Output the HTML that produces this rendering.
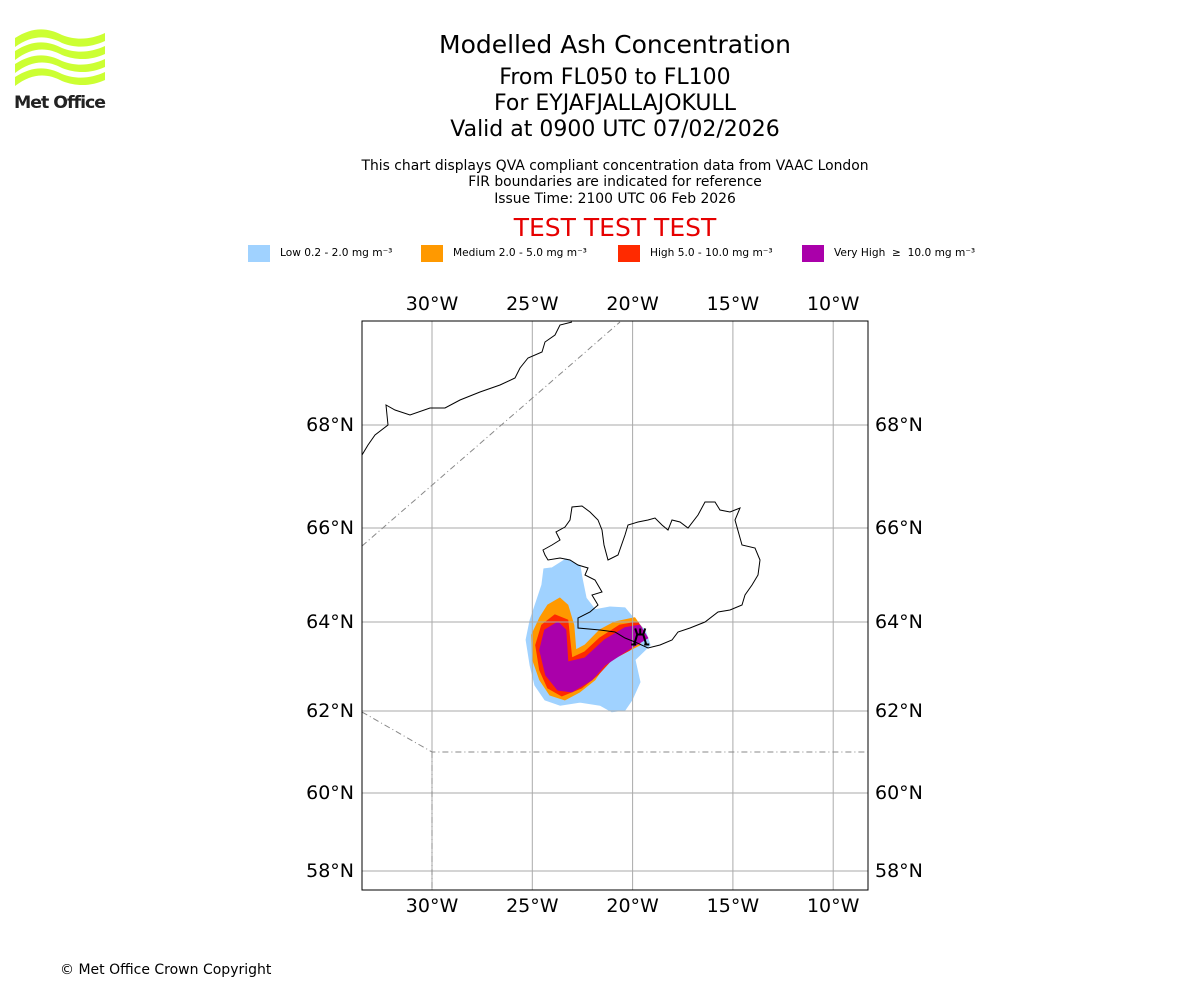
<!DOCTYPE html>
<html><head><meta charset="utf-8"><style>
body{margin:0;background:#fff;font-family:"DejaVu Sans","Liberation Sans",sans-serif;}
#root{position:relative;width:1200px;height:1000px;overflow:hidden;}
.t{position:absolute;left:0;width:1230px;text-align:center;color:#000;white-space:nowrap;}
</style></head><body>
<div id="root">
<svg style="position:absolute;left:12px;top:28px" width="100" height="86" viewBox="0 0 100 86">
<g fill="#ccff33">
<path d="M3 10 C20 -1,35 -1,50 7 C65 13,80 11,93 5 L93 13 C80 19,65 21,50 15 C35 7,20 7,3 19Z"/>
<path d="M3 23 C20 12,35 12,50 20 C65 26,80 24,93 18 L93 26 C80 32,65 33,50 27 C35 19,20 19,3 32Z"/>
<path d="M3 36 C20 25,35 25,50 33 C65 39,80 37,93 31 L93 39 C80 45,65 46,50 40 C35 32,20 32,3 45Z"/>
<path d="M3 49 C20 38,35 38,50 46 C65 52,80 50,93 44 L93 52 C80 58,65 59,50 53 C35 45,20 45,3 58Z"/>
</g>
<text x="2" y="80" font-size="17" font-weight="bold" fill="#222" font-family="DejaVu Sans, sans-serif" letter-spacing="-1" textLength="91" lengthAdjust="spacingAndGlyphs">Met Office</text>
</svg>
<div class="t" style="top:30px;font-size:25px">Modelled Ash Concentration</div>
<div class="t" style="top:65px;font-size:22px">From FL050 to FL100</div>
<div class="t" style="top:91px;font-size:22px">For EYJAFJALLAJOKULL</div>
<div class="t" style="top:117px;font-size:22px">Valid at 0900 UTC 07/02/2026</div>
<div class="t" style="top:158px;font-size:13.9px">This chart displays QVA compliant concentration data from VAAC London</div>
<div class="t" style="top:174px;font-size:13.9px">FIR boundaries are indicated for reference</div>
<div class="t" style="top:191px;font-size:13.9px">Issue Time: 2100 UTC 06 Feb 2026</div>
<div class="t" style="top:213px;font-size:25px;color:#e60000">TEST TEST TEST</div>
<svg id="legend" style="position:absolute;left:0;top:0" width="1200" height="280"></svg>
<svg id="map" style="position:absolute;left:0;top:0" width="1200" height="1000"></svg>
<div style="position:absolute;left:60px;top:962px;font-size:14px">© Met Office Crown Copyright</div>
</div>
<script>
const lonTicks=[-30,-25,-20,-15,-10];
const lonLabels=["30°W","25°W","20°W","15°W","10°W"];
const latTicks=[68,66,64,62,60,58];
const latLabels=["68°N","66°N","64°N","62°N","60°N","58°N"];
const legendLabels=["Low 0.2 - 2.0 mg m⁻³","Medium 2.0 - 5.0 mg m⁻³","High 5.0 - 10.0 mg m⁻³","Very High \u00a0≥\u00a0 10.0 mg m⁻³"];
const legendColors=["#a0d2ff","#ff9900","#ff2a00","#aa00aa"];
const lowLon=[-24.42,-24.02,-23.32,-22.62,-22.52,-22.32,-21.87,-21.13,-20.38,-19.88,-19.38,-19.13,-19.88,-19.63,-20.03,-20.38,-21.03,-21.62,-22.62,-23.62,-24.37,-24.87,-25.11,-25.31,-25.11,-24.77,-24.52];
const lowLat=[65.13,65.15,65.34,65.19,64.94,64.51,64.26,64.32,64.30,64.04,63.82,63.48,63.15,62.65,62.25,62.02,61.98,62.13,62.20,62.13,62.25,62.58,63.03,63.60,64.04,64.47,64.79];
const medLon=[-24.63,-24.23,-23.63,-23.23,-22.93,-22.83,-22.38,-21.64,-20.89,-19.89,-19.54,-19.64,-20.64,-21.39,-21.88,-22.63,-23.38,-24.13,-24.63,-24.98,-25.03];
const medLat=[64.09,64.36,64.51,64.36,63.93,63.37,63.48,63.82,64.0,64.09,63.87,63.48,63.26,63.03,62.70,62.43,62.25,62.36,62.70,63.15,63.71];
const highLon=[-24.53,-23.88,-23.23,-23.13,-23.03,-22.38,-21.64,-20.64,-19.74,-19.39,-20.14,-21.04,-21.74,-22.53,-23.53,-24.23,-24.63,-24.83];
const highLat=[63.93,64.15,64.04,63.60,63.19,63.33,63.64,63.93,64.0,63.71,63.37,63.15,62.81,62.52,62.34,62.52,62.92,63.48];
const vhLon=[-24.38,-23.73,-23.33,-23.23,-22.38,-21.39,-20.39,-19.64,-19.24,-20.24,-21.39,-22.03,-23.03,-23.73,-24.33,-24.63];
const vhLat=[63.82,64.0,63.82,63.10,63.19,63.60,63.87,63.93,63.64,63.37,63.03,62.70,62.43,62.47,62.81,63.37];
const volcano=[-19.62,63.63];

const NS="http://www.w3.org/2000/svg";
const X0=362,X1=868,Y0=321,Y1=890;
const FONT='DejaVu Sans, Liberation Sans, sans-serif';
const latPx=[[70,320],[68,425],[66,528],[64,622],[62,711],[60,793],[58,871],[57.5,890]];
function xLon(lon){return 432+(lon+30)*20.06;}
function yLat(lat){for(let i=0;i<latPx.length-1;i++){const a=latPx[i],b=latPx[i+1];if(lat<=a[0]&&lat>=b[0])return a[1]+(a[0]-lat)/(a[0]-b[0])*(b[1]-a[1]);}return lat>70?320:890;}
function mk(parent,tag,attrs){const e=document.createElementNS(NS,tag);for(const k in attrs)e.setAttribute(k,attrs[k]);parent.appendChild(e);return e;}
const map=document.getElementById('map');
const leg=document.getElementById('legend');
const legX=[248,421,618,802];
legendLabels.forEach((l,i)=>{
  const r=mk(leg,'rect',{x:legX[i],y:245,width:22,height:17,fill:legendColors[i]});
  
  
  const t=mk(leg,'text',{x:legX[i]+32,y:256,'font-size':10.6,'font-family':FONT});
  t.textContent=l;
  
  
});
const defs=mk(map,'defs',{});
const cp=mk(defs,'clipPath',{id:'clip'});
mk(cp,'rect',{x:X0,y:Y0,width:X1-X0,height:Y1-Y0});
const g=mk(map,'g',{'clip-path':'url(#clip)'});
function poly(lons,lats,color,name){
  const pts=lons.map((lo,i)=>xLon(lo).toFixed(1)+','+yLat(lats[i]).toFixed(1)).join(' ');
  const p=mk(g,'polygon',{points:pts,fill:color,stroke:color,'stroke-width':1,'stroke-linejoin':'round'});
  
  
}
poly(lowLon,lowLat,legendColors[0],'ash-low-area');
poly(medLon,medLat,legendColors[1],'ash-medium-area');
poly(highLon,highLat,legendColors[2],'ash-high-area');
poly(vhLon,vhLat,legendColors[3],'ash-very-high-area');
lonTicks.forEach((lo,i)=>{
  const x=xLon(lo);
  const l=mk(g,'line',{x1:x,x2:x,y1:Y0,y2:Y1,stroke:'#aaa','stroke-width':1});
  
  
  [310,912].forEach(ty=>{
    const t=mk(map,'text',{x:x,y:ty,'text-anchor':'middle','font-size':19,'font-family':FONT});
    t.textContent=lonLabels[i];
    
    
  });
});
latTicks.forEach((la,i)=>{
  const y=yLat(la);
  const l=mk(g,'line',{x1:X0,x2:X1,y1:y,y2:y,stroke:'#aaa','stroke-width':1});
  
  
  const t1=mk(map,'text',{x:354,y:y+6,'text-anchor':'end','font-size':19,'font-family':FONT});
  t1.textContent=latLabels[i];
  
  
  const t2=mk(map,'text',{x:875,y:y+6,'font-size':19,'font-family':FONT});
  t2.textContent=latLabels[i];
  
  
});
const fir=mk(g,'path',{d:'M362 546 L620 322 M362 712 L432 752 L868 752 M432 752 L432 890',fill:'none',stroke:'#888','stroke-width':1,'stroke-dasharray':'6 3 1 3'});


const ice=mk(g,'path',{d:'M543 550 L552 545 L560 540 L556 532 L565 527 L570 520 L572 507 L582 506 L590 512 L598 520 L602 530 L604 545 L608 560 L618 555 L625 535 L628 525 L638 522 L648 520 L655 518 L662 525 L668 530 L672 520 L680 522 L688 528 L698 515 L705 502 L715 502 L720 510 L730 512 L740 508 L735 520 L742 545 L755 548 L760 560 L758 575 L752 585 L745 595 L742 605 L730 610 L718 612 L705 622 L690 628 L678 632 L672 640 L660 645 L648 648 L635 642 L625 638 L615 632 L600 630 L578 628 L578 618 L590 612 L598 605 L592 595 L602 592 L595 580 L585 575 L588 568 L578 565 L570 560 L560 558 L548 560 L545 555 Z',fill:'none',stroke:'#000','stroke-width':1});


const grl=mk(g,'path',{d:'M362 455 L368 445 L375 435 L388 425 L386 405 L395 410 L410 415 L430 408 L445 408 L460 400 L480 392 L500 385 L515 378 L520 368 L528 358 L542 352 L545 342 L555 335 L560 325 L572 322',fill:'none',stroke:'#000','stroke-width':1});


const vx=xLon(volcano[0]),vy=yLat(volcano[1]);
const vs=mk(map,'path',{d:`M${vx-6} ${vy+6} L${vx-3} ${vy-4} L${vx+3} ${vy-4} L${vx+6} ${vy+6} M${vx-9} ${vy+6} L${vx-4} ${vy+6} M${vx+4} ${vy+6} L${vx+9} ${vy+6} M${vx-3} ${vy-4} L${vx-5} ${vy-10} M${vx} ${vy-4} L${vx} ${vy-10} M${vx+3} ${vy-4} L${vx+5} ${vy-10}`,fill:'none',stroke:'#000','stroke-width':2});


const fr=mk(map,'rect',{x:X0,y:Y0,width:X1-X0,height:Y1-Y0,fill:'none',stroke:'#000','stroke-width':1});


</script>
</body></html>
